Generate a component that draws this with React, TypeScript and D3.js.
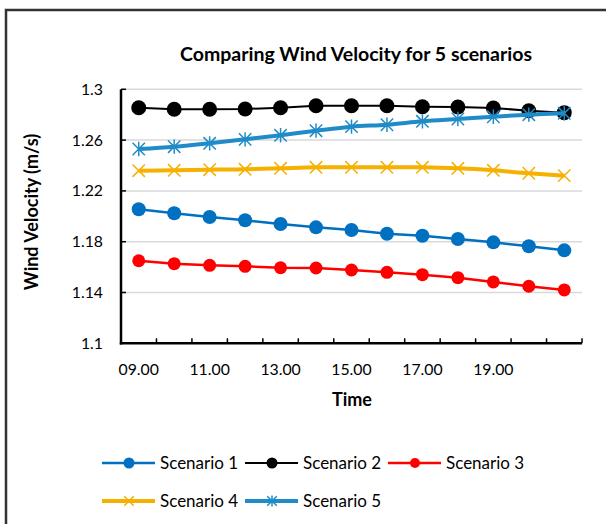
import React from 'react';
import * as d3 from 'd3';

const times = ['09.00', '10.00', '11.00', '12.00', '13.00', '14.00', '15.00', '16.00', '17.00', '18.00', '19.00', '20.00', '21.00'];
const tickLabels = ['09.00', '', '11.00', '', '13.00', '', '15.00', '', '17.00', '', '19.00', '', ''];
const yTicks = [1.1, 1.14, 1.18, 1.22, 1.26, 1.3];

const scenario1 = [1.2055, 1.2024, 1.1994, 1.1969, 1.1939, 1.1913, 1.1892, 1.1863, 1.1847, 1.1821, 1.1795, 1.1764, 1.1732];
const scenario2 = [1.2855, 1.2843, 1.2843, 1.2845, 1.2855, 1.2871, 1.2871, 1.2871, 1.2863, 1.2861, 1.2853, 1.2831, 1.2816];
const scenario3 = [1.165, 1.1627, 1.1614, 1.1606, 1.1595, 1.1593, 1.1577, 1.1559, 1.154, 1.1517, 1.1483, 1.1449, 1.142];
const scenario4 = [1.2359, 1.2362, 1.2367, 1.237, 1.2378, 1.2386, 1.2386, 1.2386, 1.2386, 1.2378, 1.2362, 1.2339, 1.232];
const scenario5 = [1.253, 1.2548, 1.2575, 1.2606, 1.2638, 1.2674, 1.2706, 1.2721, 1.2748, 1.2766, 1.2784, 1.28, 1.2811];

const seriesNames = ['Scenario 1', 'Scenario 2', 'Scenario 3', 'Scenario 4', 'Scenario 5'];

const FONT = 'Lato, "Open Sans", sans-serif';

type Style = { color: string; width: number; marker: 'circle' | 'x' | 'star'; r: number; lr: number; smooth: boolean };

const styles: Style[] = [
  { color: '#0070C0', width: 2.5, marker: 'circle', r: 7, lr: 5.5, smooth: false },
  { color: '#000000', width: 2, marker: 'circle', r: 7.5, lr: 5.5, smooth: false },
  { color: '#FF0000', width: 2.5, marker: 'circle', r: 6.5, lr: 5, smooth: false },
  { color: '#F5B000', width: 4, marker: 'x', r: 6.5, lr: 5, smooth: true },
  { color: '#1F8CC8', width: 4, marker: 'star', r: 6.5, lr: 5, smooth: true },
];

const Marker: React.FC<{ x: number; y: number; s: Style; r: number }> = ({ x, y, s, r }) => {
  if (s.marker === 'circle') return <circle cx={x} cy={y} r={r} fill={s.color} />;
  const d = r * 0.95;
  const path = `M${x - d},${y - d}L${x + d},${y + d}M${x - d},${y + d}L${x + d},${y - d}` +
    (s.marker === 'star' ? `M${x},${y - r * 1.1}L${x},${y + r * 1.1}` : '');
  return <path d={path} stroke={s.color} strokeWidth={1.5} fill="none" />;
};

const App: React.FC = () => {
  const left = 121, right = 582, top = 89.3, bottom = 343.3;
  const x = d3.scaleBand<string>().domain(times).range([left, right]);
  const y = d3.scaleLinear().domain([1.1, 1.3]).range([bottom, top]);
  const cx = (t: string) => (x(t) || 0) + x.bandwidth() / 2;
  const all = [scenario1, scenario2, scenario3, scenario4, scenario5];

  const tickXs = [...times.map(t => x(t) || 0), right];

  const legendPos = [
    { x: 102, y: 463 }, { x: 245, y: 463 }, { x: 388, y: 463 },
    { x: 102, y: 501 }, { x: 245, y: 501 },
  ];

  return (
    <svg width={606} height={524} style={{ position: 'absolute', left: 0, top: 0, background: '#fff' }} fontFamily={FONT}>
      <rect x={6} y={10} width={640} height={560} fill="#fff" stroke="#333" strokeWidth={2.5} />

      <text x={356} y={61} textAnchor="middle" fontSize={19.5} fontWeight="bold" fill="#000">
        Comparing Wind Velocity for 5 scenarios
      </text>

      {/* gridlines */}
      {yTicks.slice(1).map(v => (
        <line key={v} x1={left} x2={right} y1={y(v)} y2={y(v)} stroke="#d9d9d9" strokeWidth={1.5} />
      ))}
      {yTicks.map(v => (
        <text key={'t' + v} x={103} y={y(v) + 5.5} textAnchor="end" fontSize={15.8} fill="#000">{String(v)}</text>
      ))}

      {/* axes */}
      {yTicks.slice(1).map(v => (
        <line key={'yt' + v} x1={left} x2={left + 5} y1={y(v)} y2={y(v)} stroke="#000" strokeWidth={1.5} />
      ))}
      {tickXs.map((tx, i) => (
        <line key={'xt' + i} x1={tx} x2={tx} y1={bottom} y2={bottom - 5} stroke="#000" strokeWidth={1.5} />
      ))}
      <line x1={left} x2={left} y1={top} y2={bottom + 1.2} stroke="#000" strokeWidth={2.5} />
      <line x1={left - 1.2} x2={right} y1={bottom} y2={bottom} stroke="#000" strokeWidth={2.5} />

      {times.map((t, i) => tickLabels[i] ? (
        <text key={'xl' + t} x={cx(t)} y={375} textAnchor="middle" fontSize={15.8} fill="#000">{tickLabels[i]}</text>
      ) : null)}

      <text x={352} y={406} textAnchor="middle" fontSize={18} fontWeight="bold" fill="#000">Time</text>
      <text transform={`translate(38,212) rotate(-90)`} textAnchor="middle" fontSize={18} fontWeight="bold" fill="#000">
        Wind Velocity (m/s)
      </text>

      {/* series */}
      {all.map((vals, si) => {
        const s = styles[si];
        const line = d3.line<number>()
          .x((_, i) => cx(times[i]))
          .y(v => y(v))
          .curve(s.smooth ? d3.curveCatmullRom : d3.curveLinear);
        return (
          <g key={si}>
            <path d={line(vals) || ''} fill="none" stroke={s.color} strokeWidth={s.width} strokeLinejoin="round" />
            {vals.map((v, i) => <Marker key={i} x={cx(times[i])} y={y(v)} s={s} r={s.r} />)}
          </g>
        );
      })}

      {/* legend */}
      {seriesNames.map((name, i) => {
        const p = legendPos[i];
        const s = styles[i];
        return (
          <g key={name}>
            <line x1={p.x} x2={p.x + 53} y1={p.y} y2={p.y} stroke={s.color} strokeWidth={s.width} />
            <Marker x={p.x + 27} y={p.y} s={s} r={s.lr} />
            <text x={p.x + 58} y={p.y + 6} fontSize={17} fill="#000">{name}</text>
          </g>
        );
      })}
    </svg>
  );
};

export default App;
